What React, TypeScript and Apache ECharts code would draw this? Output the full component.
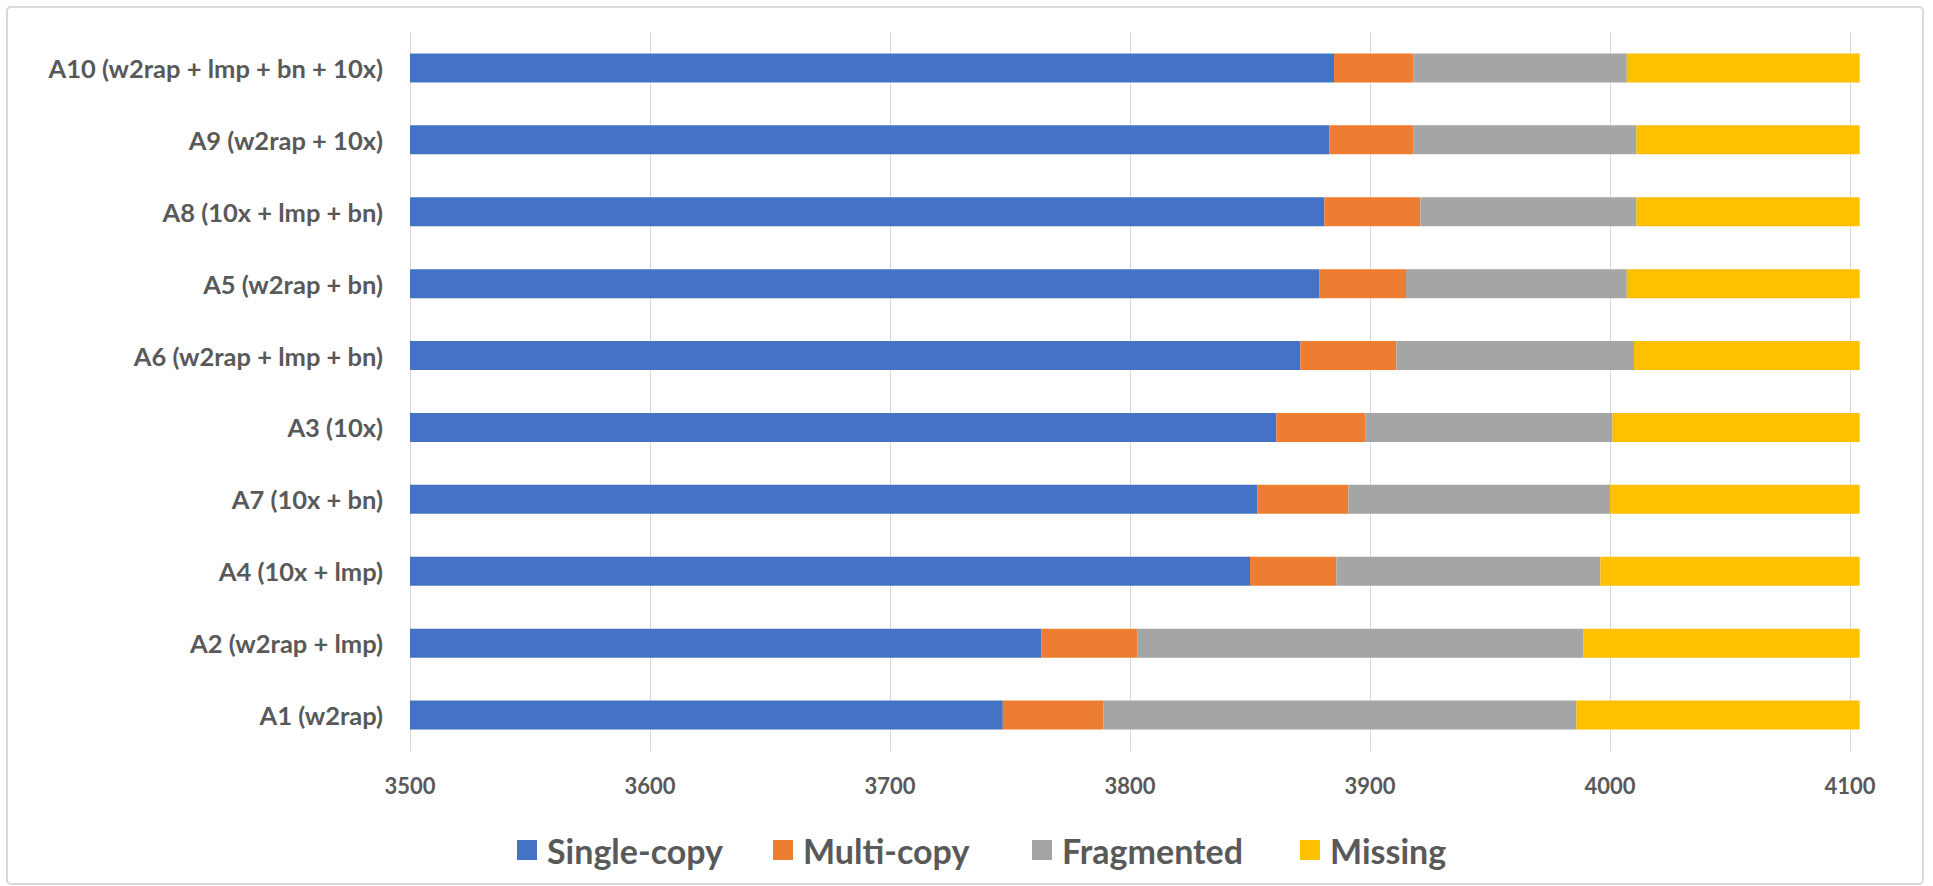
import React, { useEffect, useRef } from "react";
import * as echarts from "echarts";

// Categories, top to bottom
const categories = [
  "A10 (w2rap + lmp + bn + 10x)",
  "A9 (w2rap + 10x)",
  "A8 (10x + lmp + bn)",
  "A5 (w2rap + bn)",
  "A6 (w2rap + lmp + bn)",
  "A3 (10x)",
  "A7 (10x + bn)",
  "A4 (10x + lmp)",
  "A2 (w2rap + lmp)",
  "A1 (w2rap)",
];

const singleCopy = [3885, 3883, 3881, 3879, 3871, 3861, 3853, 3850, 3763, 3747];
const multiCopy = [33, 35, 40, 36, 40, 37, 38, 36, 40, 42];
const fragmented = [89, 93, 90, 92, 99, 103, 109, 110, 186, 197];
const missing = [97, 93, 93, 97, 94, 103, 104, 108, 115, 118];

const seriesNames = ["Single-copy", "Multi-copy", "Fragmented", "Missing"];
const seriesColors = ["#4472C4", "#ED7D31", "#A5A5A5", "#FFC000"];

const xMin = 3500;
const xMax = 4104; // total BUSCO count; last labelled tick is 4100
const xInterval = 100;

const legendLefts = [512, 768, 1027, 1295];

export default function App() {
  const ref = useRef<HTMLDivElement>(null);

  useEffect(() => {
    if (!ref.current) return;
    const chart = echarts.init(ref.current, undefined, { renderer: "svg" });
    const values = [singleCopy, multiCopy, fragmented, missing];
    const fontFamily = "Lato, 'Open Sans', sans-serif";
    chart.setOption({
      animation: false,
      backgroundColor: "#ffffff",
      graphic: [
        {
          type: "rect",
          shape: { x: 7, y: 7, width: 1916, height: 877, r: 4 },
          style: { fill: "none", stroke: "#D9D9D9", lineWidth: 2 },
          silent: true,
        },
      ],
      grid: { left: 410, right: 73.4, top: 32, bottom: 135, containLabel: false },
      legend: seriesNames.map((name, i) => ({
        data: [name],
        left: legendLefts[i],
        top: 828,
        itemWidth: 20,
        itemHeight: 20,
        icon: "rect",
        textStyle: { fontSize: 34, color: "#595959", fontFamily, fontWeight: "bold", padding: [0, 0, 0, 5] },
      })),
      xAxis: {
        type: "value",
        min: xMin,
        max: xMax,
        interval: xInterval,
        axisLine: { show: false },
        axisTick: { show: false },
        splitLine: { show: true, showMaxLine: false, lineStyle: { color: "#D9D9D9", width: 1 } },
        axisLabel: {
          fontSize: 22,
          color: "#595959",
          fontFamily,
          fontWeight: "bold",
          margin: 23,
          showMaxLabel: false,
          formatter: (v: number) => (v % xInterval === 0 ? String(v) : ""),
        },
      },
      yAxis: {
        type: "category",
        data: categories,
        inverse: true,
        axisLine: { show: false },
        axisTick: { show: false },
        axisLabel: { fontSize: 25.5, color: "#595959", fontFamily, fontWeight: "bold", margin: 27 },
      },
      series: seriesNames.map((name, i) => ({
        name,
        type: "bar",
        stack: "total",
        barWidth: 29,
        itemStyle: { color: seriesColors[i] },
        data: values[i],
      })),
    });
    return () => chart.dispose();
  }, []);

  return (
    <div
      ref={ref}
      style={{ position: "fixed", left: 0, top: 0, width: 1933, height: 886 }}
    />
  );
}
